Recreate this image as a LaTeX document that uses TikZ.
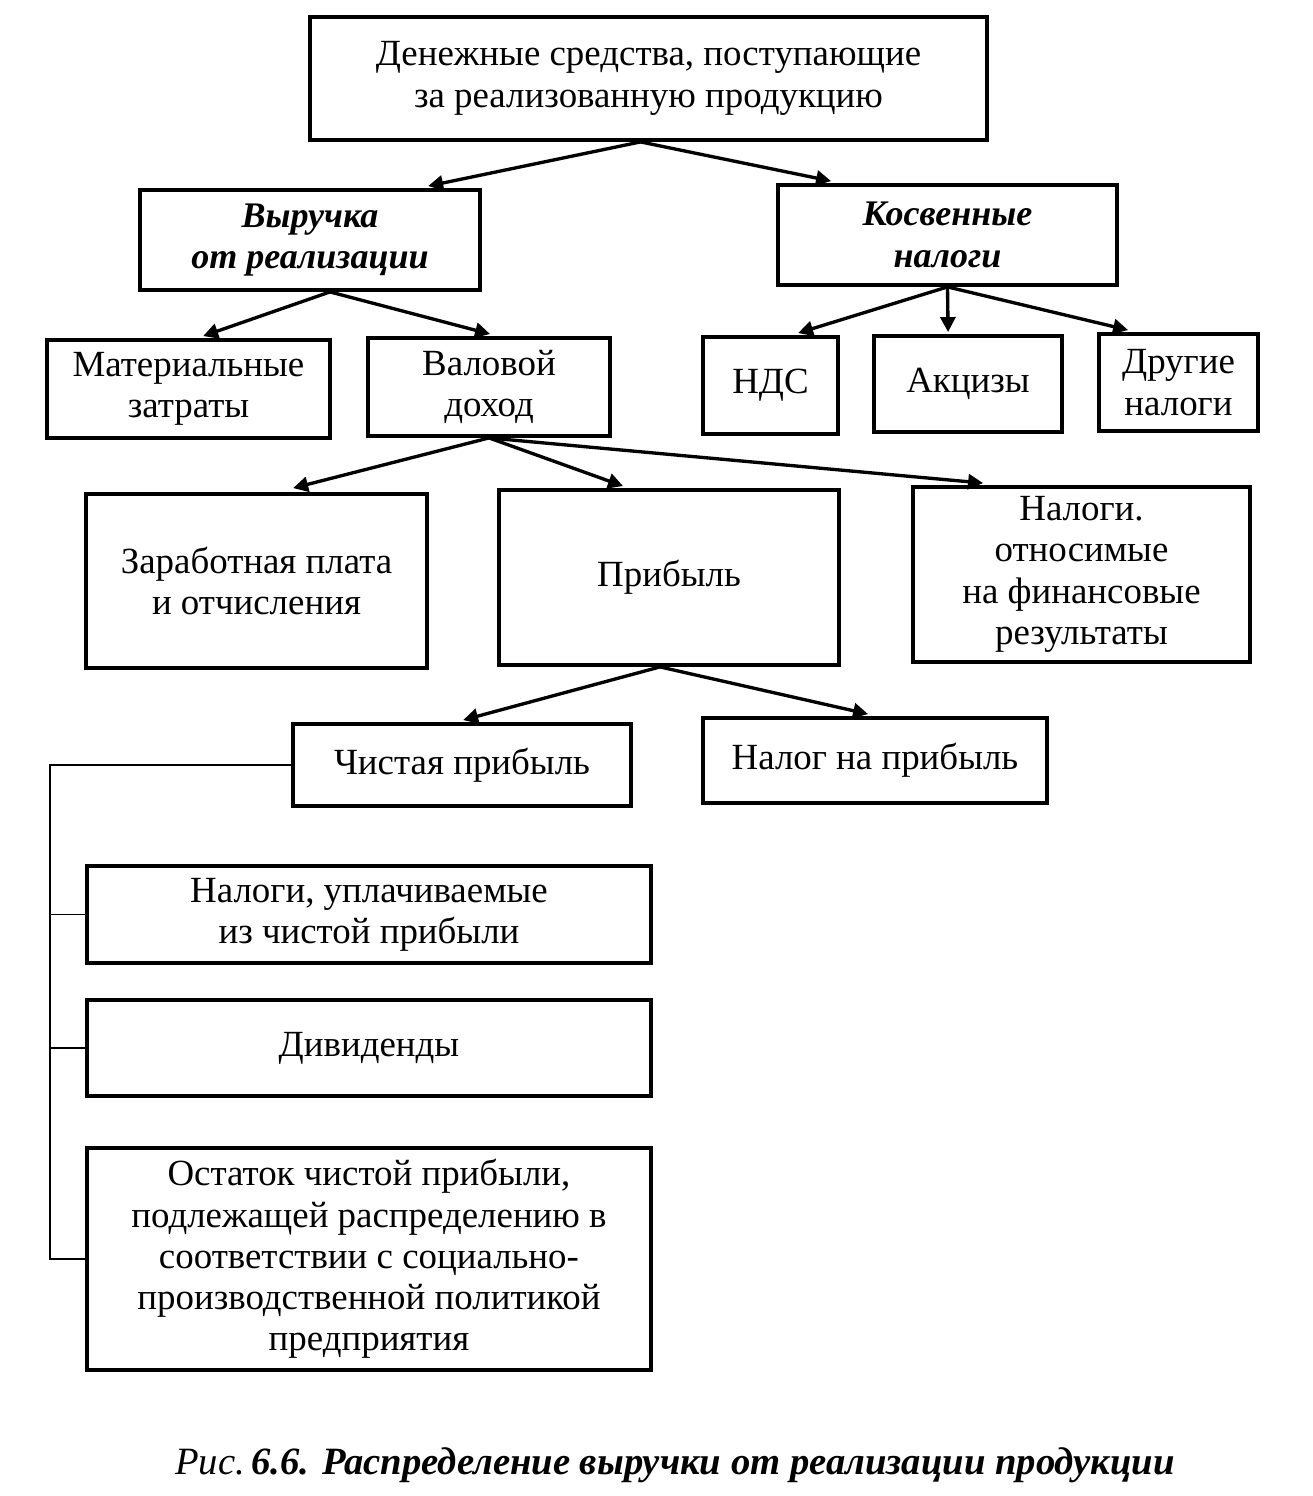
\documentclass[tikz,border=0pt]{standalone}
\usepackage{fontspec}
\setmainfont{Liberation Serif}
\usetikzlibrary{positioning,calc,arrows.meta}

\begin{document}
\begin{tikzpicture}[x=0.02cm,y=-0.02cm,
    box/.style={draw, line width=2.2pt, inner sep=0pt, align=center,
        font=\fontsize{21}{23.5}\selectfont},
    arr/.style={-{Triangle[length=0.3cm,width=0.3cm]}, line width=1.9pt}]
    \useasboundingbox (0,0) rectangle (1312,1496);

    \node[box, minimum width=13.54cm, minimum height=2.46cm] (top) at (648.5,78.5)
        {Денежные средства, поступающие\\за реализованную продукцию};
    \node[box, minimum width=6.8cm, minimum height=2cm, font=\fontsize{20.5}{23.5}\selectfont\itshape\bfseries] (vyr) at (310,240)
        {Выручка\\от реализации};
    \node[box, minimum width=6.78cm, minimum height=2cm, font=\fontsize{20.5}{23.5}\selectfont\itshape\bfseries] (kosv) at (947.5,235)
        {Косвенные\\налоги};
    \node[box, minimum width=5.66cm, minimum height=1.96cm] (mat) at (188.5,389) {Материальные\\затраты};
    \node[box, minimum width=4.84cm, minimum height=1.96cm] (val) at (489,387) {Валовой\\доход};
    \node[box, minimum width=2.7cm, minimum height=1.94cm] (nds) at (770.5,385.5) {НДС};
    \node[box, minimum width=3.76cm, minimum height=1.92cm] (akc) at (968,384) {Акцизы};
    \node[box, minimum width=3.18cm, minimum height=1.94cm] (dr) at (1178.5,382.5) {Другие\\налоги};
    \node[box, minimum width=6.82cm, minimum height=3.48cm] (zar) at (256.5,581) {Заработная плата\\и отчисления};
    \node[box, minimum width=6.8cm, minimum height=3.5cm] (prib) at (669,577.5) {Прибыль};
    \node[box, minimum width=6.74cm, minimum height=3.5cm] (nfr) at (1081.5,574.5)
        {Налоги.\\относимые\\на финансовые\\результаты};
    \node[box, minimum width=6.76cm, minimum height=1.64cm] (chist) at (462,765) {Чистая прибыль};
    \node[box, minimum width=6.88cm, minimum height=1.7cm] (nnp) at (875,760.5) {Налог на прибыль};
    \node[box, minimum width=11.28cm, minimum height=1.94cm] (nup) at (369,914.5)
        {Налоги, уплачиваемые\\из чистой прибыли};
    \node[box, minimum width=11.28cm, minimum height=1.92cm] (div) at (369,1048) {Дивиденды};
    \node[box, minimum width=11.28cm, minimum height=4.44cm] (ost) at (369,1259)
        {Остаток чистой прибыли,\\подлежащей распределению в\\соответствии с социально-\\производственной политикой\\предприятия};

    \node[font=\fontsize{22}{24}\selectfont\itshape\bfseries] (cap) at (675,1465)
        {{\mdseries Рис.}\,6.6. Распределение выручки от реализации продукции};

    % arrows
    \path[arr]
        ($(top.south)+(-8,0)$) edge ($(vyr.north west)+(290,-2)$)
        ($(top.south)+(-8,0)$) edge ($(kosv.north west)+(55,-2)$)
        ($(vyr.south)+(20,0)$) edge ($(mat.north west)+(158,-2)$)
        ($(vyr.south)+(20,0)$) edge ($(val.north west)+(124,-2)$)
        (kosv.south) edge ($(nds.north west)+(97,-2)$)
        (kosv.south) edge ($(akc.north west)+(76,-2)$)
        (kosv.south) edge ($(dr.north west)+(31,-2)$)
        (val.south) edge ($(zar.north west)+(209,-4)$)
        (val.south) edge ($(prib.north west)+(126,-2)$)
        (val.south) edge ($(nfr.north west)+(72,-2)$)
        ($(prib.south)+(-9,0)$) edge ($(chist.north west)+(172,-2)$)
        ($(prib.south)+(-9,0)$) edge ($(nnp.north west)+(167,-2)$);

    % bracket
    \coordinate (br) at (50,765);
    \draw[line width=1.1pt] (chist.west) -- (br) -- (br |- ost.west) -- (ost.west);
    \draw[line width=1.1pt] (nup.west) -- (br |- nup.west);
    \draw[line width=1.1pt] (div.west) -- (br |- div.west);
\end{tikzpicture}
\end{document}
